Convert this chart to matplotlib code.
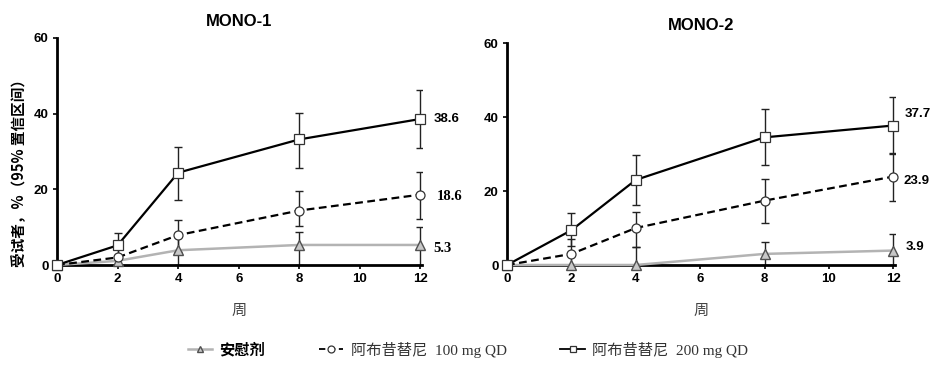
import matplotlib
matplotlib.use("Agg")
import matplotlib.pyplot as plt
from matplotlib.lines import Line2D

plt.rcParams['font.family'] = ['Liberation Sans', 'Noto Sans CJK SC']

weeks = [0, 2, 4, 8, 12]
xticks = [0, 2, 4, 6, 8, 10, 12]
yticks = [0, 20, 40, 60]
titles = ["MONO-1", "MONO-2"]

# MONO-1
m1_placebo = [0, 1.1, 3.9, 5.3, 5.3]
m1_placebo_lo = [0, 0, 0, 0, 0]
m1_placebo_hi = [0, 2.5, 8.0, 8.8, 10.1]
m1_100 = [0, 2.0, 7.9, 14.4, 18.6]
m1_100_lo = [0, 0, 3.5, 10.4, 12.2]
m1_100_hi = [0, 4.5, 11.9, 19.6, 24.6]
m1_200 = [0, 5.2, 24.4, 33.2, 38.6]
m1_200_lo = [0, 2.0, 17.3, 25.6, 30.9]
m1_200_hi = [0, 8.5, 31.1, 40.3, 46.2]
m1_labels = ["5.3", "18.6", "38.6"]

# MONO-2
m2_placebo = [0, 0, 0, 3.0, 3.9]
m2_placebo_lo = [0, 0, 0, 0, 0]
m2_placebo_hi = [0, 0, 4.9, 6.3, 8.4]
m2_100 = [0, 3.0, 10.0, 17.4, 23.9]
m2_100_lo = [0, 0, 4.9, 11.4, 17.3]
m2_100_hi = [0, 7.0, 14.4, 23.2, 30.4]
m2_200 = [0, 9.4, 23.0, 34.5, 37.7]
m2_200_lo = [0, 5.1, 16.3, 27.1, 30.1]
m2_200_hi = [0, 14.1, 29.6, 42.1, 45.4]
m2_labels = ["3.9", "23.9", "37.7"]

legend_labels = ["安慰剂", "阿布昔替尼  100 mg QD", "阿布昔替尼  200 mg QD"]

fig = plt.figure(figsize=(9.36, 3.66), dpi=100)
ax1 = fig.add_axes([57/936, 1-265/366, (422-57)/936, (265-38)/366])
ax2 = fig.add_axes([507/936, 1-265/366, (895-507)/936, (265-43)/366])

styles = [
    dict(color='#b3b3b3', ls='-', lw=1.8, marker='^', mfc='#c8c8c8', mec='#505050', ms=6.5, mew=1.0),
    dict(color='black', ls=(0, (3.5, 2)), lw=1.6, marker='o', mfc='white', mec='#333333', ms=6.5, mew=0.9),
    dict(color='black', ls='-', lw=1.6, marker='s', mfc='white', mec='#333333', ms=6.5, mew=0.9),
]

def draw(ax, series, labels, title, label_pos, label_fonts):
    for (vals, lo, hi), st in zip(series, styles):
        yerr = [[v - l for v, l in zip(vals, lo)], [h - v for v, h in zip(vals, hi)]]
        ax.errorbar(weeks, vals, yerr=yerr, fmt='none', ecolor='#222222', elinewidth=1.0,
                    capsize=3, capthick=1.0, zorder=2)
        ax.plot(weeks, vals, zorder=3, clip_on=False, **st)
    ax.set_xlim(0, 12.05)
    ax.set_ylim(0, 60)
    ax.set_xticks(xticks)
    ax.set_yticks(yticks)
    for s in ['top', 'right']:
        ax.spines[s].set_visible(False)
    for s in ['left', 'bottom']:
        ax.spines[s].set_linewidth(2.0)
        ax.spines[s].set_color('black')
    ax.tick_params(axis='both', direction='out', length=3, width=1.2, labelsize=9.5, pad=3)
    for t in ax.get_xticklabels() + ax.get_yticklabels():
        t.set_fontweight('bold')
    ax.set_title(title, fontsize=12, fontweight='bold', pad=9)
    ax.set_xlabel("周", fontsize=11, color='#444444', labelpad=12, family=['Noto Sans CJK SC'])
    for (txt, (xp, yp), (fam, fs)) in zip(labels, label_pos, label_fonts):
        ax.text(xp, yp, txt, transform=ax.transData, fontsize=fs, fontweight='bold',
                va='center', ha='left', family=fam, clip_on=False)

draw(ax1, [(m1_placebo, m1_placebo_lo, m1_placebo_hi), (m1_100, m1_100_lo, m1_100_hi),
           (m1_200, m1_200_lo, m1_200_hi)], m1_labels, titles[0],
     [(12.43, 4.3), (12.53, 18.2), (12.43, 38.6)],
     [(['Liberation Serif'], 10.5), (['Liberation Serif'], 10.5), (['Liberation Sans'], 9.5)])
draw(ax2, [(m2_placebo, m2_placebo_lo, m2_placebo_hi), (m2_100, m2_100_lo, m2_100_hi),
           (m2_200, m2_200_lo, m2_200_hi)], m2_labels, titles[1],
     [(12.38, 5.0), (12.3, 22.8), (12.35, 40.9)],
     [(['Liberation Sans'], 9.5), (['Liberation Sans'], 9.5), (['Liberation Sans'], 9.5)])

ax1.set_ylabel("受试者，%（95% 置信区间）", fontsize=10.5, fontweight='bold',
               family=['Noto Sans CJK SC'])
ax1.yaxis.set_label_coords(-0.083, 0.42)

handles = [Line2D([], [], **{**styles[0], 'ms': 5}),
           Line2D([], [], **{**styles[1], 'ms': 5, 'lw': 1.3}),
           Line2D([], [], **{**styles[2], 'ms': 5, 'lw': 1.3})]
leg = fig.legend(handles, legend_labels, loc='center', bbox_to_anchor=(0.5, 0.045), ncol=3,
                 frameon=False, handlelength=1.6, columnspacing=3.5, handletextpad=0.5,
                 fontsize=11)
texts = leg.get_texts()
texts[0].set_fontweight('bold')
texts[0].set_family(['Noto Sans CJK SC'])
for t in texts[1:]:
    t.set_family(['Liberation Serif', 'Noto Sans CJK SC'])
    t.set_color('#333333')

fig.savefig("out.png", dpi=100)
